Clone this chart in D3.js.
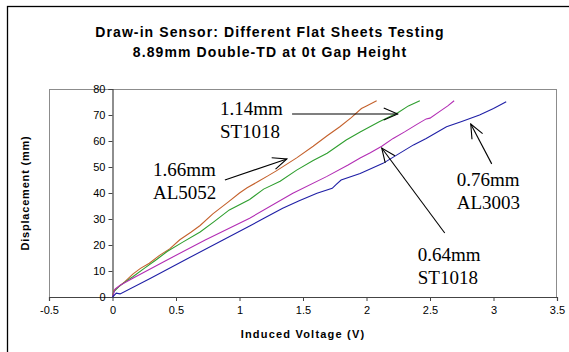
<!DOCTYPE html>
<html>
<head>
<meta charset="utf-8">
<script src="https://cdn.jsdelivr.net/npm/d3@7"></script>
<style>
  body { margin: 0; background: #fff; }
  svg { display: block; font-family: "Liberation Sans", Arial, sans-serif; }
</style>
</head>
<body>
<script>
// chart values: [voltage (V), displacement (mm)]
const titleLines = ['Draw-in Sensor: Different Flat Sheets Testing', '8.89mm Double-TD at 0t Gap Height'];
const xTicks = [-0.5, 0, 0.5, 1, 1.5, 2, 2.5, 3, 3.5];
const yTicks = [0, 10, 20, 30, 40, 50, 60, 70, 80];

const al5052 = [[0,0],[0.01,2.5],[0.05,4],[0.1,6],[0.16,8.8],[0.22,11],[0.29,13],[0.37,16],[0.45,18.5],
  [0.53,22],[0.62,25],[0.69,27.5],[0.79,32],[0.91,36.5],[1.0,40],[1.06,42],[1.15,44.5],[1.22,46.5],
  [1.29,48.5],[1.37,51],[1.45,53.5],[1.58,58],[1.69,62],[1.79,65.5],[1.88,69],[1.96,72.5],[2.0,73.5],[2.08,75.5]];
const st1018thick = [[0,0],[0.01,2],[0.05,4],[0.1,5.8],[0.16,7.8],[0.25,11],[0.35,14.5],[0.43,17.5],[0.55,21],
  [0.69,25],[0.8,29],[0.92,33.5],[1.08,37.5],[1.19,41.5],[1.32,44.5],[1.45,48.8],[1.58,52.5],[1.69,55.3],
  [1.84,60.4],[1.95,63.5],[2.1,67.4],[2.25,71],[2.33,73.5],[2.42,75.5]];
const st1018thin = [[0,0],[0.02,3],[0.06,4.5],[0.16,7.2],[0.4,13.5],[0.73,21.9],[1.08,30.3],[1.42,39.9],
  [1.685,46.3],[1.855,50.8],[1.95,53.5],[2.03,55.5],[2.12,58],[2.21,61],[2.3,63.5],[2.4,66.5],[2.47,68.5],
  [2.5,68.8],[2.58,71.5],[2.64,73.5],[2.69,75.5]];
const al3003 = [[0,0],[0.03,1.5],[0.06,1.2],[0.3,7.2],[0.6,15],[0.87,21.9],[1.08,27.3],[1.2,30.5],[1.34,34.1],
  [1.47,37],[1.61,39.9],[1.73,41.8],[1.76,43.2],[1.8,45],[1.95,47.5],[2.13,51.4],[2.37,58.5],[2.47,61],
  [2.63,65.5],[2.75,67.5],[2.89,70],[3.0,72.5],[3.1,75.1]];

const series = [
  { name: '1.66mm AL5052', color: '#c4612c', values: al5052 },
  { name: '1.14mm ST1018', color: '#2e9e2e', values: st1018thick },
  { name: '0.64mm ST1018', color: '#b22db4', values: st1018thin },
  { name: '0.76mm AL3003', color: '#1f1fa6', values: al3003 }
];

// callouts: text position and arrow [from, to] in data units
const callouts = [
  { lines: ['1.14mm', 'ST1018'], at: [0.846, 70], from: [1.414, 70.4], to: [2.246, 70.4] },
  { lines: ['1.66mm', 'AL5052'], at: [0.319, 46.5], from: [0.885, 45], to: [1.373, 53.1] },
  { lines: ['0.76mm', 'AL3003'], at: [2.71, 42.7], from: [2.986, 51.2], to: [2.821, 66.5] },
  { lines: ['0.64mm', 'ST1018'], at: [2.404, 13.8], from: [2.616, 24.6], to: [2.12, 57.3] }
];

const W = 569, H = 352;
const plot = { left: 49, right: 557, top: 89, bottom: 297 };

const svg = d3.select('body').append('svg')
  .attr('width', W).attr('height', H);

// outer chart frame (right and bottom fall outside the picture)
svg.append('rect')
  .attr('x', 7.5).attr('y', 6.5)
  .attr('width', W + 10).attr('height', H + 10)
  .attr('fill', 'none').attr('stroke', '#000').attr('stroke-width', 1.3);

const x = d3.scaleLinear().domain([-0.5, 3.5]).range([plot.left, plot.right]);
const y = d3.scaleLinear().domain([0, 80]).range([plot.bottom, plot.top]);

// plot area border
svg.append('rect')
  .attr('x', plot.left + 0.5).attr('y', plot.top + 0.5)
  .attr('width', plot.right - plot.left - 1).attr('height', plot.bottom - plot.top)
  .attr('fill', 'none').attr('stroke', '#8c8c8c');

// title
svg.append('g').selectAll('text')
  .data(titleLines).join('text')
  .attr('x', 270).attr('y', (d, i) => 37 + i * 20)
  .attr('text-anchor', 'middle')
  .style('font-size', '14px').style('font-weight', 'bold')
  .style('letter-spacing', '1.1px')
  .text(d => d);

// axes
const xAxis = d3.axisBottom(x).tickValues(xTicks).tickSize(4).tickPadding(5)
  .tickFormat(d => String(d));
const xg = svg.append('g')
  .attr('transform', `translate(0, ${y(0)})`)
  .call(xAxis);

const yAxis = d3.axisLeft(y).tickValues(yTicks).tickSize(4).tickPadding(3);
const yg = svg.append('g')
  .attr('transform', `translate(${x(0)}, 0)`)
  .call(yAxis);

[xg, yg].forEach(g => {
  g.attr('font-family', null).attr('font-size', null);
  g.select('.domain').attr('stroke', '#444').attr('stroke-width', 1.2);
  g.selectAll('.tick line').attr('stroke', '#444');
  g.selectAll('.tick text').style('font-size', '11px').attr('fill', '#000');
});

// axis titles
svg.append('text')
  .attr('x', (plot.left + plot.right) / 2).attr('y', 338)
  .attr('text-anchor', 'middle')
  .style('font-size', '11px').style('font-weight', 'bold')
  .style('letter-spacing', '1.2px')
  .text('Induced Voltage (V)');

svg.append('text')
  .attr('transform', `translate(29, ${(plot.top + plot.bottom) / 2}) rotate(-90)`)
  .attr('text-anchor', 'middle')
  .style('font-size', '11px').style('font-weight', 'bold')
  .style('letter-spacing', '0.8px')
  .text('Displacement (mm)');

// data lines
const line = d3.line().x(d => x(d[0])).y(d => y(d[1]));
svg.append('g').selectAll('path')
  .data(series).join('path')
  .attr('d', d => line(d.values))
  .attr('fill', 'none')
  .attr('stroke', d => d.color)
  .attr('stroke-width', 1.1);

// arrow marker
svg.append('defs').append('marker')
  .attr('id', 'arrow')
  .attr('viewBox', '0 0 16 14')
  .attr('refX', 15).attr('refY', 7)
  .attr('markerWidth', 16).attr('markerHeight', 14)
  .attr('markerUnits', 'userSpaceOnUse')
  .attr('orient', 'auto')
  .append('path')
  .attr('d', 'M1,1 L15,7 L1,13')
  .attr('fill', 'none').attr('stroke', '#000').attr('stroke-width', 1.1);

const notes = svg.append('g');
callouts.forEach(c => {
  notes.append('line')
    .attr('x1', x(c.from[0])).attr('y1', y(c.from[1]))
    .attr('x2', x(c.to[0])).attr('y2', y(c.to[1]))
    .attr('stroke', '#000').attr('stroke-width', 1.1)
    .attr('marker-end', 'url(#arrow)');
  notes.append('g').selectAll('text')
    .data(c.lines).join('text')
    .attr('x', x(c.at[0]))
    .attr('y', (d, i) => y(c.at[1]) + i * 23)
    .style('font-family', '"Liberation Serif", "Times New Roman", serif')
    .style('font-size', '19px')
    .text(d => d);
});
</script>
</body>
</html>
